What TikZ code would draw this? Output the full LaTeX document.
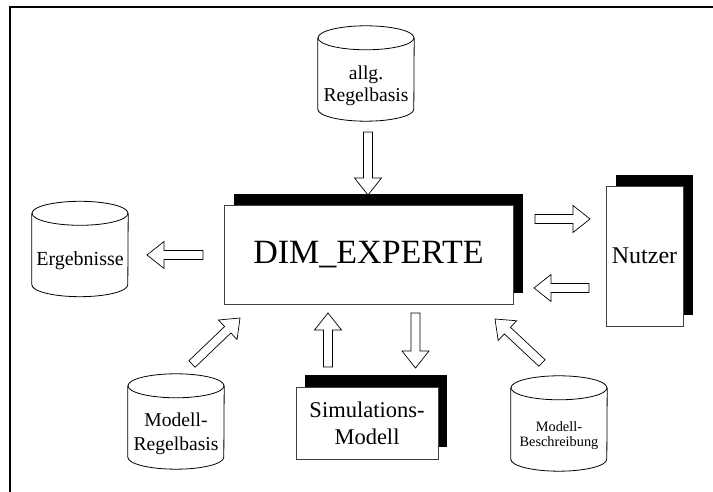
\documentclass[tikz,border=0pt]{standalone}
\usepackage{fontspec}
\setmainfont{Liberation Serif}
\usetikzlibrary{calc,shadows}
\tikzset{
  cylbody/.style={minimum width=96pt, minimum height=71pt, inner sep=0pt, align=center},
  cylline/.style={line width=0.8pt, draw=black},
  boxnode/.style={draw=black!75, line width=0.8pt, fill=white, inner sep=0pt, align=center,
    general shadow={fill=black, shadow xshift=10pt, shadow yshift=11pt}},
  boxnodesmall/.style={draw=black!75, line width=0.8pt, fill=white, inner sep=0pt, align=center,
    general shadow={fill=black, shadow xshift=8.5pt, shadow yshift=12pt}},
  blockarrow/.style={draw=black, line width=0.7pt, fill=white, line join=miter},
  frameline/.style={line width=1.2pt}
}
\newcommand\cylpath[1]{%
  \draw[cylline] ($(#1.north)+(0,12pt)$) ellipse [x radius=48pt, y radius=12pt];
  \draw[cylline] ($(#1.north west)+(0,12pt)$) -- ($(#1.south west)+(0,12pt)$)
    arc[start angle=180,end angle=360,x radius=48pt,y radius=12pt] -- ($(#1.north east)+(0,12pt)$);
}
\newcommand\blockarr[2]{%
  \coordinate (bah) at ($(#2)!17pt!(#1)$);
  \draw[blockarrow] ($(#1)!4.5pt!-90:(#2)$) -- ($(bah)!4.5pt!-90:(#2)$) -- ($(bah)!13.5pt!-90:(#2)$)
    -- (#2) -- ($(bah)!13.5pt!90:(#2)$) -- ($(bah)!4.5pt!90:(#2)$) -- ($(#1)!4.5pt!90:(#2)$) -- cycle;
}
\begin{document}
\begin{tikzpicture}[x=1pt,y=1pt]
\useasboundingbox (0,0) rectangle (713,492);
\fill[white] (0,0) rectangle (713,492);
\draw[frameline] (10,0) -- (10,485) -- (713,485);

% cylinders
\node[cylbody, font=\fontsize{19.6}{22}\selectfont] (allg) at (366,406.5) {allg.\\Regelbasis};
\cylpath{allg}
\node[cylbody, font=\fontsize{20}{22}\selectfont] (erg) at (80,231) {Ergebnisse};
\cylpath{erg}
\node[cylbody, font=\fontsize{19.6}{24}\selectfont] (mreg) at (176,58.5) {Modell-\\Regelbasis};
\cylpath{mreg}
\node[cylbody, font=\fontsize{14.3}{15.5}\selectfont] (mbes) at (559,56.5) {Modell-\\Beschreibung};
\cylpath{mbes}

% boxes
\node[boxnode, minimum width=289pt, minimum height=99pt, font=\fontsize{34}{38}\selectfont] (dim) at (368.5,237.5) {DIM\_EXPERTE};
\node[boxnode, minimum width=77pt, minimum height=140pt, font=\fontsize{24}{26}\selectfont] (nutzer) at (644.5,236) {Nutzer};
\node[boxnodesmall, minimum width=142pt, minimum height=72pt, font=\fontsize{22.5}{27}\selectfont] (sim) at (367,69) {Simulations-\\Modell};

% arrow end points
\coordinate (a1s) at (368,360);   \coordinate (a1e) at (368,297);
\coordinate (a2s) at (203,237);   \coordinate (a2e) at (147,237);
\coordinate (a3s) at (535,273);   \coordinate (a3e) at (590,273);
\coordinate (a4s) at (589,204);   \coordinate (a4e) at (534,204);
\coordinate (a5s) at (192,128);   \coordinate (a5e) at (240,174);
\coordinate (a6s) at (328,125);   \coordinate (a6e) at (328,179);
\coordinate (a7s) at (415.5,179); \coordinate (a7e) at (415.5,124);
\coordinate (a8s) at (542,129);   \coordinate (a8e) at (495,173);

\blockarr{a1s}{a1e}
\blockarr{a2s}{a2e}
\blockarr{a3s}{a3e}
\blockarr{a4s}{a4e}
\blockarr{a5s}{a5e}
\blockarr{a6s}{a6e}
\blockarr{a7s}{a7e}
\blockarr{a8s}{a8e}
\end{tikzpicture}
\end{document}
